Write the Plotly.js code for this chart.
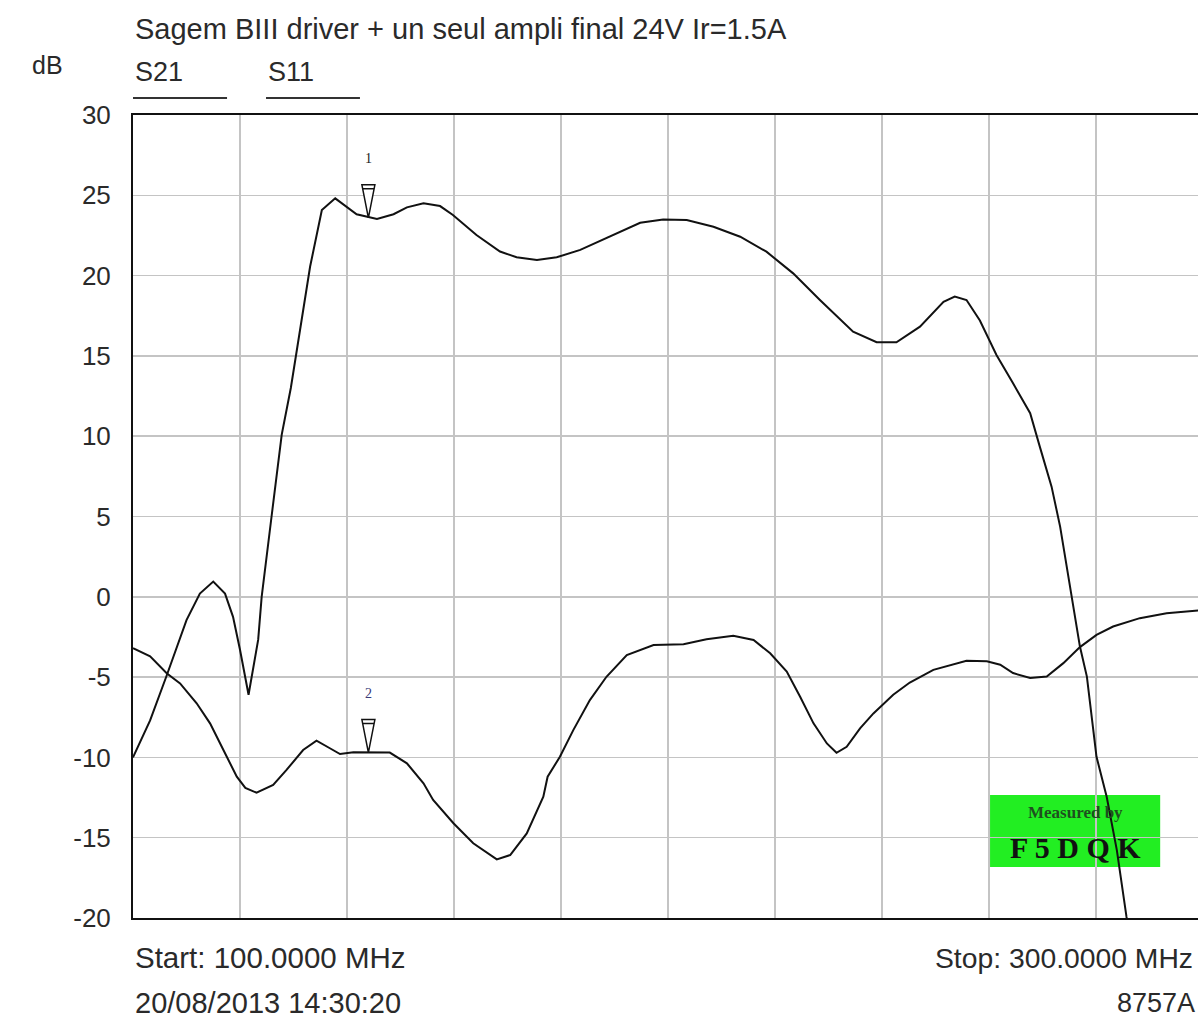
<!DOCTYPE html>
<html>
<head>
<meta charset="utf-8">
<script src="https://cdn.plot.ly/plotly-3.0.1.min.js"></script>
<style>
html,body{margin:0;padding:0;background:#fff;}
#chart{width:1198px;height:1022px;}
</style>
</head>
<body>
<div id="chart"></div>
<script>
// ---- Data ----
const s21Freq = [100, 103.2, 106.3, 110, 112.5, 115, 117.2, 118.7, 120, 121.6, 123.4, 124.05, 125.9, 127.8, 129.5,
  133.1, 135.3, 137.8, 141.8, 144.0, 145.6, 148.7, 151.2, 154.3, 157.4, 159.8, 164.2, 168.6, 171.7, 175.5,
  179.2, 183.6, 189.2, 194.8, 199.1, 203.5, 208.5, 213.5, 218.4, 223.4, 228.4, 234.6, 239.0, 242.7, 247.1,
  251.5, 253.6, 255.8, 258.3, 261.4, 264.5, 267.7, 269.5, 271.7, 273.3, 274.9, 277.0, 278.3, 280.1, 282.0,
  283.9, 285.7, 286.5];
const s21Db = [-10, -7.7, -4.9, -1.45, 0.2, 0.95, 0.2, -1.25, -3.3, -6.1, -2.67, 0.0, 5.0, 10.1, 13.0,
  20.55, 24.08, 24.81, 23.82, 23.67, 23.52, 23.82, 24.25, 24.5, 24.33, 23.77, 22.53, 21.5, 21.14, 20.97,
  21.14, 21.6, 22.42, 23.29, 23.5, 23.46, 23.04, 22.42, 21.49, 20.14, 18.48, 16.51, 15.85, 15.85, 16.82,
  18.37, 18.69, 18.48, 17.2, 15.06, 13.29, 11.43, 9.35, 6.86, 4.37, 1.07, -3.1, -4.97, -9.96, -12.45,
  -15.77, -19.92, -21.5];

const s11Freq = [100, 103.2, 106.3, 108.8, 111.9, 114.4, 116.9, 119.4, 121.0, 123.1, 126.2, 128.7, 131.8, 134.3,
  136.8, 138.7, 141.2, 148.0, 151.2, 154.3, 156.1, 159.9, 163.6, 168.0, 170.5, 173.6, 176.7, 177.5, 179.8,
  182.3, 185.4, 188.5, 192.3, 197.3, 202.9, 207.2, 212.2, 216.0, 219.1, 222.2, 224.7, 227.2, 229.7, 231.5,
  233.4, 235.9, 238.4, 242.1, 245.2, 249.6, 255.8, 259.6, 262.1, 264.5, 267.7, 270.8, 273.9, 277.0, 280.1,
  283.2, 288.2, 293.2, 299.1];
const s11Db = [-3.2, -3.7, -4.76, -5.39, -6.63, -7.88, -9.54, -11.2, -11.9, -12.2, -11.72, -10.78, -9.54, -8.96,
  -9.43, -9.79, -9.68, -9.7, -10.37, -11.61, -12.65, -14.1, -15.35, -16.35, -16.08, -14.73, -12.45, -11.2, -9.96,
  -8.3, -6.43, -4.98, -3.63, -3.0, -2.95, -2.64, -2.42, -2.69, -3.52, -4.66, -6.22, -7.88, -9.13, -9.71,
  -9.34, -8.19, -7.26, -6.1, -5.34, -4.55, -3.98, -4.02, -4.23, -4.75, -5.06, -4.96, -4.13, -3.13, -2.37,
  -1.85, -1.33, -1.02, -0.85];

const markerNames = ['1', '2'];
const markerFreq = [144, 144];
const markerDb = [23.6, -9.7];
const markerColors = ['#222222', '#3a3a78'];

const yTickVals = [30, 25, 20, 15, 10, 5, 0, -5, -10, -15, -20];
const yTickText = ['30', '25', '20', '15', '10', '5', '0', '-5', '-10', '-15', '-20'];

const titleText = 'Sagem BIII driver + un seul ampli final 24V Ir=1.5A';
const traceNames = ['S21', 'S11'];
const startText = 'Start: 100.0000 MHz';
const stopText = 'Stop: 300.0000 MHz';
const dateText = '20/08/2013 14:30:20';
const instrText = '8757A';

// ---- Figure ----
const FONT = 'Liberation Sans, Arial, sans-serif';
const txtColor = '#2a2a2a';

const traces = [
  {x: s21Freq, y: s21Db, name: traceNames[0], type: 'scatter', mode: 'lines',
   line: {color: '#111111', width: 2}, cliponaxis: true},
  {x: s11Freq, y: s11Db, name: traceNames[1], type: 'scatter', mode: 'lines',
   line: {color: '#111111', width: 2}, cliponaxis: true}
];

const shapes = [
  // legend underlines
  {type: 'line', xref: 'paper', yref: 'paper', x0: 0, x1: 0.0883, y0: 1.0212, y1: 1.0212,
   line: {color: '#333', width: 2}},
  {type: 'line', xref: 'paper', yref: 'paper', x0: 0.1249, x1: 0.2131, y0: 1.0212, y1: 1.0212,
   line: {color: '#333', width: 2}},
  // watermark box
  {type: 'rect', xref: 'x', yref: 'y', x0: 260.2, x1: 292.0, y0: -16.83, y1: -12.34,
   fillcolor: '#22ee22', line: {width: 0}, layer: 'below'}
];
markerFreq.forEach((f, i) => {
  shapes.push({type: 'path', xref: 'x', yref: 'y', xsizemode: 'pixel', ysizemode: 'pixel',
    xanchor: f, yanchor: markerDb[i], path: 'M -6.5,33 L 6.5,33 L 0,0 Z M -5.8,29 L 5.8,29',
    fillcolor: '#ffffff', line: {color: '#111', width: 1.5}, layer: 'above'});
});

const annotations = [
  {text: titleText, xref: 'paper', yref: 'paper', x: 0, y: 1.107, xanchor: 'left', yanchor: 'middle',
   showarrow: false, font: {family: FONT, size: 29, color: txtColor}},
  {text: 'dB', xref: 'paper', yref: 'paper', x: -0.0967, y: 1.062, xanchor: 'left', yanchor: 'middle',
   showarrow: false, font: {family: FONT, size: 25, color: txtColor}},
  {text: traceNames[0], xref: 'paper', yref: 'paper', x: 0, y: 1.0535, xanchor: 'left', yanchor: 'middle',
   showarrow: false, font: {family: FONT, size: 27, color: txtColor}},
  {text: traceNames[1], xref: 'paper', yref: 'paper', x: 0.1249, y: 1.0535, xanchor: 'left', yanchor: 'middle',
   showarrow: false, font: {family: FONT, size: 27, color: txtColor}},
  {text: startText, xref: 'paper', yref: 'paper', x: 0, y: -0.0498, xanchor: 'left', yanchor: 'middle',
   showarrow: false, font: {family: FONT, size: 29.5, color: txtColor}},
  {text: dateText, xref: 'paper', yref: 'paper', x: 0, y: -0.1059, xanchor: 'left', yanchor: 'middle',
   showarrow: false, font: {family: FONT, size: 29, color: txtColor}},
  {text: stopText, xref: 'paper', yref: 'paper', x: 0.7512, y: -0.0498, xanchor: 'left', yanchor: 'middle',
   showarrow: false, font: {family: FONT, size: 28.3, color: txtColor}},
  {text: instrText, xref: 'paper', yref: 'paper', x: 0.9225, y: -0.1059, xanchor: 'left', yanchor: 'middle',
   showarrow: false, font: {family: FONT, size: 27, color: txtColor}},
  // watermark text
  {text: '<b>Measured by</b>', xref: 'x', yref: 'y', x: 276.1, y: -13.4, xanchor: 'center', yanchor: 'middle',
   showarrow: false, font: {family: 'Liberation Serif, serif', size: 17, color: '#1f4f1f'}},
  {text: '<b>F 5 D Q K</b>', xref: 'x', yref: 'y', x: 276.1, y: -15.6, xanchor: 'center', yanchor: 'middle',
   showarrow: false, font: {family: 'Liberation Serif, serif', size: 30, color: '#111'}}
];
markerFreq.forEach((f, i) => {
  annotations.push({text: markerNames[i], xref: 'x', yref: 'y', x: f, y: markerDb[i], yshift: 59,
    xanchor: 'center', yanchor: 'middle', showarrow: false,
    font: {family: 'Liberation Serif, serif', size: 14, color: markerColors[i]}});
});

const layout = {
  width: 1198, height: 1022,
  margin: {l: 133, r: 0, t: 115, b: 104, pad: 0},
  paper_bgcolor: '#ffffff', plot_bgcolor: '#ffffff',
  showlegend: false,
  xaxis: {range: [100, 299.07], tick0: 100, dtick: 20, showticklabels: false, ticks: '',
    showgrid: true, gridcolor: '#c4c4c4', gridwidth: 1.5, zeroline: false,
    showline: true, linecolor: '#111', linewidth: 2, mirror: true, fixedrange: true},
  yaxis: {range: [-20, 30], tickvals: yTickVals, ticktext: yTickText, ticks: '',
    ticklabelstandoff: 15, tickfont: {family: FONT, size: 26, color: txtColor},
    showgrid: true, gridcolor: '#c4c4c4', gridwidth: 1.5, zeroline: false,
    showline: true, linecolor: '#111', linewidth: 2, mirror: false, fixedrange: true},
  shapes: shapes,
  annotations: annotations
};

Plotly.newPlot('chart', traces, layout, {staticPlot: true, displayModeBar: false});
</script>
</body>
</html>
